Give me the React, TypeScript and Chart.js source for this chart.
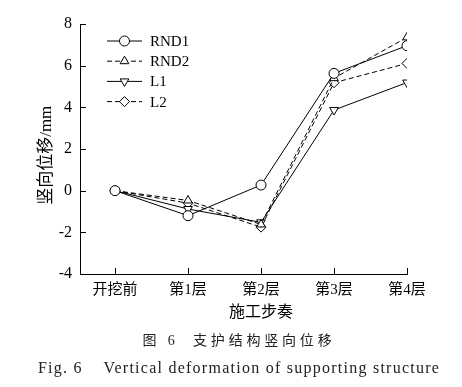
import React, { useEffect, useRef } from "react";
import { Chart, registerables } from "chart.js";
import { drawPoint } from "chart.js/helpers";

Chart.register(...registerables);

const categories = ["开挖前", "第1层", "第2层", "第3层", "第4层"];
const yTicks = [-4, -2, 0, 2, 4, 6, 8];
const rnd1 = [0, -1.2, 0.27, 5.63, 6.96];
const rnd2 = [0, -0.47, -1.62, 5.4, 7.36];
const l1 = [0, -0.88, -1.52, 3.87, 5.19];
const l2 = [0, -0.6, -1.75, 5.18, 6.11];
const seriesNames = ["RND1", "RND2", "L1", "L2"];
const xTitle = "施工步奏";
const yTitle = "竖向位移/mm";

const FONT = '"Liberation Serif", "Noto Sans CJK SC", serif';

const innerTicks = {
  id: "innerTicks",
  afterDatasetsDraw(chart: any) {
    const { ctx, chartArea } = chart;
    const xs = chart.scales.x;
    const ys = chart.scales.y;
    ctx.save();
    ctx.strokeStyle = "#000";
    ctx.lineWidth = 1;
    ctx.beginPath();
    xs.ticks.forEach((t: any) => {
      const px = Math.round(xs.getPixelForValue(t.value)) + 0.5;
      ctx.moveTo(px, chartArea.bottom);
      ctx.lineTo(px, chartArea.bottom - 6);
    });
    ys.ticks.forEach((t: any) => {
      const py = Math.round(ys.getPixelForValue(t.value)) + 0.5;
      ctx.moveTo(chartArea.left, py);
      ctx.lineTo(chartArea.left + 6, py);
    });
    ctx.stroke();
    ctx.restore();
  },
};

const axisTitles = {
  id: "axisTitles",
  afterDraw(chart: any) {
    const { ctx, chartArea } = chart;
    const xs = chart.scales.x;
    const ys = chart.scales.y;
    ctx.save();
    ctx.fillStyle = "#000";
    ctx.textAlign = "center";
    ctx.textBaseline = "middle";
    ctx.font = "16px " + FONT;
    const xc = (xs.getPixelForValue(0) + xs.getPixelForValue(categories.length - 1)) / 2;
    ctx.fillText(xTitle, xc, chartArea.bottom + 39);
    ctx.translate(47, ys.getPixelForValue(1.7));
    ctx.rotate(-Math.PI / 2);
    ctx.font = "17px " + FONT;
    ctx.fillText(yTitle, 0, 0);
    ctx.restore();
  },
};

const lineLegend = {
  id: "lineLegend",
  afterDatasetsDraw(chart: any) {
    const { ctx, chartArea } = chart;
    const x0 = chartArea.left + 27;
    const x1 = chartArea.left + 62;
    const xm = (x0 + x1) / 2;
    ctx.save();
    chart.data.datasets.forEach((ds: any, i: number) => {
      const y = chartArea.top + 17 + i * 20.2;
      ctx.strokeStyle = "#000";
      ctx.lineWidth = 1;
      ctx.setLineDash(ds.borderDash || []);
      ctx.beginPath();
      ctx.moveTo(x0, y);
      ctx.lineTo(x1, y);
      ctx.stroke();
      ctx.setLineDash([]);
      ctx.fillStyle = "#fff";
      ctx.strokeStyle = "#000";
      drawPoint(
        ctx,
        { pointStyle: ds.pointStyle, rotation: ds.pointRotation || 0, radius: 5, borderWidth: 1 },
        xm,
        y
      );
      ctx.fillStyle = "#000";
      ctx.font = "15px " + FONT;
      ctx.textBaseline = "middle";
      ctx.textAlign = "left";
      ctx.fillText(ds.label, x1 + 8, y + 1);
    });
    ctx.restore();
  },
};

export default function App() {
  const ref = useRef<HTMLCanvasElement>(null);
  useEffect(() => {
    if (!ref.current) return;
    const mk = (label: string, data: number[], style: string, dash: number[], rot = 0) => ({
      label,
      data: data.map((v, i) => ({ x: i, y: v })),
      borderColor: "#000",
      borderWidth: 1,
      borderDash: dash,
      pointStyle: style,
      pointRotation: rot,
      pointRadius: 5,
      pointBorderWidth: 1,
      pointBackgroundColor: "#fff",
      pointBorderColor: "#000",
      fill: false,
      tension: 0,
    });
    const chart = new Chart(ref.current, {
      type: "line",
      data: {
        datasets: [
          mk(seriesNames[0], rnd1, "circle", []),
          mk(seriesNames[1], rnd2, "triangle", [5, 3]),
          mk(seriesNames[2], l1, "triangle", [], 180),
          mk(seriesNames[3], l2, "rectRot", [5, 3]),
        ] as any,
      },
      options: {
        animation: false,
        responsive: false,
        devicePixelRatio: 1,
        layout: { padding: { left: 0, top: 24, right: 55, bottom: 63 } },
        plugins: { legend: { display: false }, tooltip: { enabled: false } },
        scales: {
          x: {
            type: "linear",
            min: -0.48,
            max: 4,
            afterBuildTicks: (s: any) => {
              s.ticks = categories.map((_, i) => ({ value: i }));
            },
            afterFit: (s: any) => {
              s.height = 50;
            },
            grid: { display: false, drawTicks: false },
            border: { display: true, color: "#000", width: 1 },
            ticks: {
              color: "#000",
              padding: 7,
              font: { family: FONT, size: 15 },
              callback: (v: any) => categories[v] ?? "",
            },
            title: { display: false },
          },
          y: {
            type: "linear",
            min: -4,
            max: 8,
            afterBuildTicks: (s: any) => {
              s.ticks = yTicks.map((v) => ({ value: v }));
            },
            afterFit: (s: any) => {
              s.width = 80;
            },
            grid: { display: false, drawTicks: false },
            border: { display: true, color: "#000", width: 1 },
            ticks: {
              color: "#000",
              padding: 8,
              font: { family: FONT, size: 16 },
              callback: (v: any) => String(v),
            },
            title: { display: false },
          },
        },
      } as any,
      plugins: [innerTicks, lineLegend, axisTitles],
    });
    return () => chart.destroy();
  }, []);
  return (
    <div style={{ position: "absolute", left: 0, top: 0, width: 462, height: 387, background: "#fff" }}>
      <canvas ref={ref} width={462} height={387} style={{ position: "absolute", left: 0, top: 0 }} />
      <div
        style={{
          position: "absolute",
          left: 0,
          width: 462,
          top: 332,
          textAlign: "center",
          fontFamily: FONT,
          fontSize: 14,
          lineHeight: "18px",
          color: "#222",
          whiteSpace: "pre",
          letterSpacing: 3.8,
          paddingLeft: 16,
          boxSizing: "border-box",
        }}
      >
        {"图 6  支护结构竖向位移"}
      </div>
      <div
        style={{
          position: "absolute",
          left: 0,
          width: 462,
          top: 358,
          textAlign: "center",
          fontFamily: FONT,
          fontSize: 16,
          lineHeight: "20px",
          color: "#222",
          whiteSpace: "pre",
          letterSpacing: 1.25,
          paddingLeft: 16,
          boxSizing: "border-box",
        }}
      >
        {"Fig. 6    Vertical deformation of supporting structure"}
      </div>
    </div>
  );
}
